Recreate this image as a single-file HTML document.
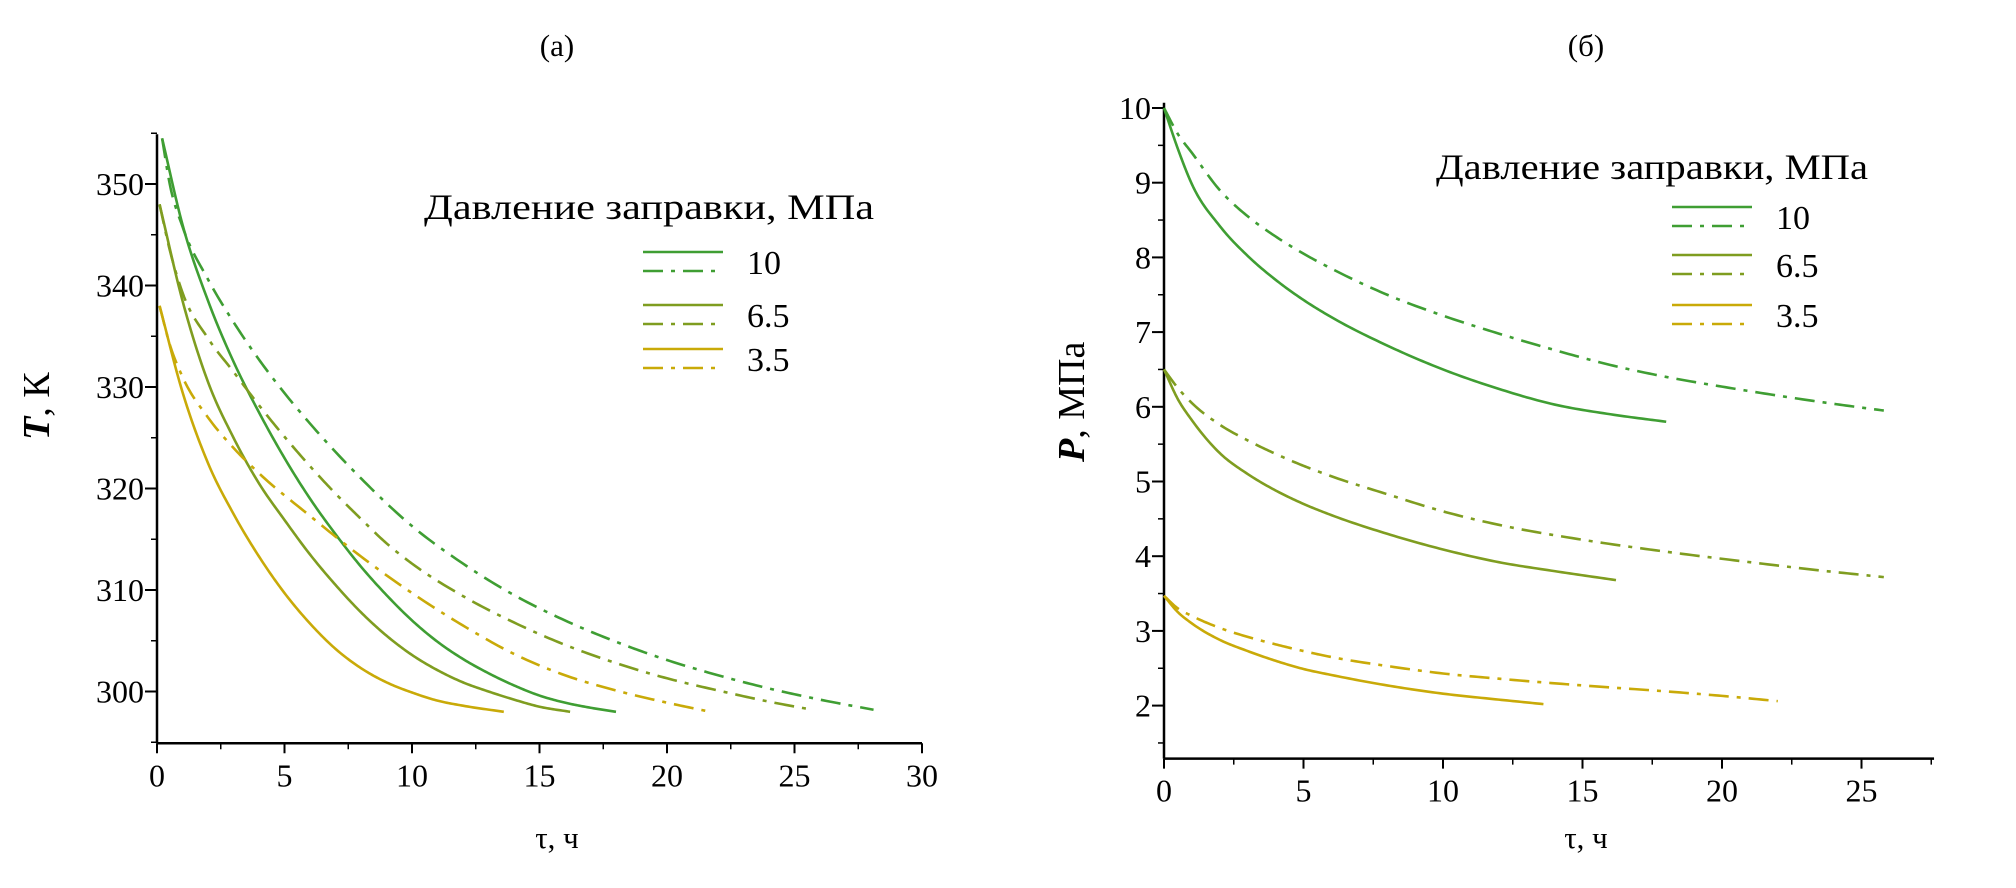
<!DOCTYPE html>
<html><head><meta charset="utf-8">
<style>
html,body{margin:0;padding:0;background:#fff;}
svg{display:block;font-family:"Liberation Serif",serif;}
</style></head>
<body>
<svg id="chart" width="2016" height="888" viewBox="0 0 2016 888" xmlns="http://www.w3.org/2000/svg">
<text x="557" y="56" font-size="31" text-anchor="middle">(a)</text>
<text x="1586" y="56" font-size="31" text-anchor="middle">(б)</text>
<text x="557" y="848" font-size="31" text-anchor="middle">τ, ч</text>
<text x="1586" y="848" font-size="31" text-anchor="middle">τ, ч</text>
<text transform="translate(49,440) rotate(-90)" font-size="38"><tspan font-style="italic" font-weight="bold">T</tspan>, К</text>
<text transform="translate(1084,462) rotate(-90)" font-size="38"><tspan font-style="italic" font-weight="bold">P</tspan>, МПа</text>
<g id="g"></g>
</svg>
<script>
// ---- data: panel (a) temperature T, K vs time tau, h ----
const aTickX = [0, 5, 10, 15, 20, 25, 30];
const aTickY = [300, 310, 320, 330, 340, 350];
const aS10 = [[0.2,354.5],[1,346],[2,338.5],[3,332.5],[4,327.5],[5,323],[6,319],[7,315.5],[8,312.3],[9,309.5],[10,307],[11,304.9],[12,303.2],[13,301.8],[14,300.6],[15,299.6],[16,298.9],[17,298.4],[18,298]];
const aD10 = [[0.2,354.5],[0.5,350],[1,345.8],[2,340.6],[3,336.4],[4,332.7],[5,329.4],[6,326.4],[8,321],[10,316.3],[12,312.6],[14,309.5],[16,307],[18,304.9],[20,303.1],[22,301.6],[24,300.3],[26,299.2],[28.1,298.2]];
const aS65 = [[0.1,348],[1,338.5],[2,330.5],[3,325],[4,320.5],[5,316.9],[6,313.5],[7,310.5],[8,307.8],[9,305.5],[10,303.6],[11,302.1],[12,300.9],[13,300],[14,299.2],[15,298.5],[16.2,298]];
const aD65 = [[0.1,348],[0.5,343.5],[1,339.3],[2,334.8],[3,331.5],[4,328.2],[5,325.1],[6,322.2],[7,319.5],[8,317],[9,314.6],[10,312.6],[12,309.4],[14,306.8],[16,304.6],[18,302.8],[20,301.3],[22,300.1],[24,299],[25.7,298.2]];
const aS35 = [[0.1,338],[1,329.5],[2,322.5],[3,317.5],[4,313.3],[5,309.7],[6,306.7],[7,304.2],[8,302.3],[9,300.9],[10,299.9],[11,299.1],[12,298.6],[13.6,298]];
const aD35 = [[0.1,338],[0.5,334.2],[1,331],[2,327],[3,324],[4,321.5],[6,317.3],[8,313.3],[10,309.7],[12,306.5],[14,303.7],[16,301.6],[18,300.1],[20,298.9],[21.7,298]];
// ---- data: panel (b) pressure P, MPa vs time ----
const bTickX = [0, 5, 10, 15, 20, 25];
const bTickY = [2, 3, 4, 5, 6, 7, 8, 9, 10];
const bS10 = [[0,10],[0.5,9.45],[1,8.98],[2,8.42],[3,8.02],[4,7.7],[5,7.43],[6,7.2],[8,6.82],[10,6.5],[12,6.24],[14,6.03],[16,5.9],[18,5.8]];
const bD10 = [[0,10],[0.5,9.65],[1,9.4],[2,8.9],[3,8.55],[4,8.28],[5,8.05],[6,7.85],[8,7.5],[10,7.22],[12,6.98],[14,6.76],[16,6.56],[18,6.4],[20,6.27],[22,6.15],[24,6.04],[25.8,5.95]];
const bS65 = [[0,6.5],[0.5,6.1],[1,5.82],[2,5.38],[3,5.1],[4,4.88],[5,4.7],[6,4.55],[8,4.3],[10,4.09],[12,3.92],[14,3.8],[16.2,3.68]];
const bD65 = [[0,6.5],[0.5,6.25],[1,6.05],[2,5.76],[3,5.55],[4,5.37],[5,5.21],[6,5.07],[8,4.83],[10,4.6],[12,4.42],[15,4.22],[18,4.06],[21,3.92],[23.5,3.81],[25.8,3.72]];
const bS35 = [[0,3.47],[0.5,3.25],[1,3.1],[2,2.88],[3,2.73],[4,2.6],[5,2.49],[6,2.41],[8,2.27],[10,2.16],[12,2.08],[13.6,2.02]];
const bD35 = [[0,3.47],[0.5,3.3],[1,3.2],[2,3.04],[3,2.92],[4,2.82],[5,2.73],[6,2.65],[8,2.53],[10,2.43],[12,2.36],[15,2.27],[18,2.19],[20,2.13],[22,2.06]];
const legendLabels = ["10", "6.5", "3.5"];

const C10 = "#3f9e33", C65 = "#7f9d20", C35 = "#c9aa08";
const DASH = "20 8 4 8";
const NS = "http://www.w3.org/2000/svg";
const G = document.getElementById('g');
function mk(tag, attrs, parent) {
  const e = document.createElementNS(NS, tag);
  for (const k in attrs) e.setAttribute(k, attrs[k]);
  (parent || G).appendChild(e);
  return e;
}
const axA = { x: t => 157 + t * 25.5, y: v => 184 + (350 - v) * 10.15 };
const axB = { x: t => 1164 + t * 27.9, y: v => 108 + (10 - v) * 74.7 };

function monotone(pts) {
  const n = pts.length, xs = pts.map(p => p[0]), ys = pts.map(p => p[1]);
  const d = [], m = [];
  for (let i = 0; i < n - 1; i++) d.push((ys[i + 1] - ys[i]) / (xs[i + 1] - xs[i]));
  m[0] = d[0]; m[n - 1] = d[n - 2];
  for (let i = 1; i < n - 1; i++) {
    if (d[i - 1] * d[i] <= 0) { m[i] = 0; continue; }
    const h0 = xs[i] - xs[i - 1], h1 = xs[i + 1] - xs[i];
    m[i] = (d[i - 1] * h1 + d[i] * h0) / (h0 + h1);
  }
  for (let i = 0; i < n - 1; i++) {
    if (d[i] === 0) { m[i] = m[i + 1] = 0; continue; }
    const a = m[i] / d[i], b = m[i + 1] / d[i], s = a * a + b * b;
    if (s > 9) { const t = 3 / Math.sqrt(s); m[i] = t * a * d[i]; m[i + 1] = t * b * d[i]; }
  }
  const out = [];
  for (let i = 0; i < n - 1; i++) {
    const h = xs[i + 1] - xs[i];
    for (let k = 0; k < 16; k++) {
      const t = k / 16, t2 = t * t, t3 = t2 * t;
      const y = (2 * t3 - 3 * t2 + 1) * ys[i] + (t3 - 2 * t2 + t) * h * m[i] + (-2 * t3 + 3 * t2) * ys[i + 1] + (t3 - t2) * h * m[i + 1];
      out.push([xs[i] + t * h, y]);
    }
  }
  out.push(pts[n - 1]);
  return out;
}
function series(pts, ax, color, dashed, name) {
  const s = monotone(pts).map((p, i) => (i ? "L" : "M") + ax.x(p[0]).toFixed(2) + " " + ax.y(p[1]).toFixed(2)).join(" ");
  const e = mk('path', { d: s, fill: 'none', stroke: color, 'stroke-width': 2.6, 'stroke-linejoin': 'round' });
  if (dashed) e.setAttribute('stroke-dasharray', DASH);
  
  
}
function axes(ax, x0, x1, y0, y1, tx, ty, minorX, minorY, prefix) {
  const left = ax.x(x0), bottom = ax.y(y0);
  const yl = mk('line', { x1: left, y1: ax.y(y1), x2: left, y2: bottom, stroke: '#000', 'stroke-width': 2.5 });
  
  
  const xl = mk('line', { x1: left, y1: bottom, x2: ax.x(x1), y2: bottom, stroke: '#000', 'stroke-width': 2.5 });
  
  
  minorX.forEach(t => mk('line', { x1: ax.x(t), y1: bottom, x2: ax.x(t), y2: bottom + 6, stroke: '#000', 'stroke-width': 1.5 }));
  minorY.forEach(v => mk('line', { x1: left - 6, y1: ax.y(v), x2: left, y2: ax.y(v), stroke: '#000', 'stroke-width': 1.5 }));
  tx.forEach(t => {
    mk('line', { x1: ax.x(t), y1: bottom, x2: ax.x(t), y2: bottom + 10, stroke: '#000', 'stroke-width': 2 });
    const tt = mk('text', { x: ax.x(t), y: bottom + 43, 'font-size': 32, 'text-anchor': 'middle' });
    tt.textContent = t;
    
    
  });
  ty.forEach(v => {
    mk('line', { x1: left - 12, y1: ax.y(v), x2: left, y2: ax.y(v), stroke: '#000', 'stroke-width': 2 });
    const tt = mk('text', { x: left - 13, y: ax.y(v) + 11, 'font-size': 32, 'text-anchor': 'end' });
    tt.textContent = v;
    
    
  });
}
function range(a, b, s) { const r = []; for (let v = a; v <= b + 1e-9; v += s) r.push(+v.toFixed(3)); return r; }

axes(axA, 0, 30, 294.9, 354.9, aTickX, aTickY, range(2.5, 27.5, 5), range(295, 355, 5), 'a');
axes(axB, 0, 27.6, 1.29, 10.07, bTickX, bTickY, range(2.5, 27.5, 2.5), range(1.5, 9.5, 0.5), 'b');

series(aS10, axA, C10, false, 'a-line-10-solid');
series(aD10, axA, C10, true, 'a-line-10-dashdot');
series(aS65, axA, C65, false, 'a-line-6.5-solid');
series(aD65, axA, C65, true, 'a-line-6.5-dashdot');
series(aS35, axA, C35, false, 'a-line-3.5-solid');
series(aD35, axA, C35, true, 'a-line-3.5-dashdot');
series(bS10, axB, C10, false, 'b-line-10-solid');
series(bD10, axB, C10, true, 'b-line-10-dashdot');
series(bS65, axB, C65, false, 'b-line-6.5-solid');
series(bD65, axB, C65, true, 'b-line-6.5-dashdot');
series(bS35, axB, C35, false, 'b-line-3.5-solid');
series(bD35, axB, C35, true, 'b-line-3.5-dashdot');

function legend(tx, ty, tw, lx, ys, prefix) {
  const t = mk('text', { x: tx, y: ty, 'font-size': 36, textLength: tw, lengthAdjust: 'spacingAndGlyphs' });
  t.textContent = 'Давление заправки, МПа';
  
  
  const cols = [C10, C65, C35];
  legendLabels.forEach((lab, i) => {
    const y = ys[i];
    mk('line', { x1: lx, y1: y, x2: lx + 80, y2: y, stroke: cols[i], 'stroke-width': 2.6 });
    mk('line', { x1: lx, y1: y + 19, x2: lx + 80, y2: y + 19, stroke: cols[i], 'stroke-width': 2.6, 'stroke-dasharray': DASH });
    const l = mk('text', { x: lx + 104, y: y + 22, 'font-size': 34 });
    l.textContent = lab;
    
    
  });
}
legend(424, 219, 450, 643, [252, 305, 349], 'a');
legend(1436, 179, 432, 1672, [207, 255, 305], 'b');
</script>
</body></html>
